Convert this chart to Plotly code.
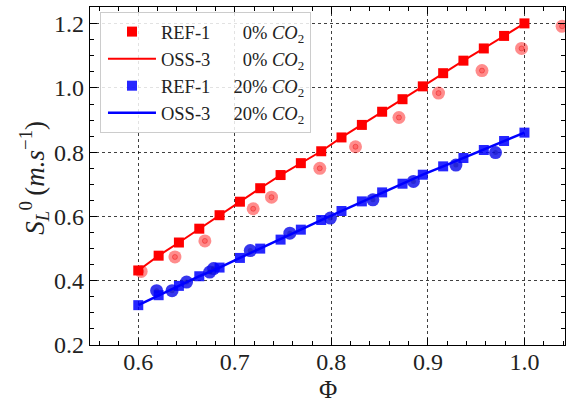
import numpy as np
import plotly.graph_objects as go

# ---- data ----
phi_grid = [0.6, 0.6211, 0.6421, 0.6632, 0.6842, 0.7053, 0.7263, 0.7474, 0.7684, 0.7895,
            0.8105, 0.8316, 0.8526, 0.8737, 0.8947, 0.9158, 0.9368, 0.9579, 0.9789, 1.0]
ref1_0_y = [0.432, 0.478, 0.519, 0.562, 0.604, 0.646, 0.688, 0.729, 0.766, 0.803,
            0.846, 0.885, 0.926, 0.965, 1.005, 1.046, 1.085, 1.123, 1.162, 1.201]
oss3_0_y = [0.432, 0.478, 0.519, 0.562, 0.604, 0.646, 0.688, 0.729, 0.766, 0.803,
            0.846, 0.885, 0.926, 0.965, 1.005, 1.046, 1.085, 1.123, 1.162, 1.201]
ref1_20_y = [0.324, 0.355, 0.384, 0.414, 0.441, 0.471, 0.500, 0.528, 0.559, 0.589,
             0.617, 0.647, 0.675, 0.702, 0.730, 0.756, 0.782, 0.807, 0.835, 0.861]
oss3_20_y = [0.324, 0.355, 0.384, 0.414, 0.441, 0.471, 0.500, 0.528, 0.559, 0.589,
             0.617, 0.647, 0.675, 0.702, 0.730, 0.756, 0.782, 0.807, 0.835, 0.861]

exp_0_x = [0.603, 0.638, 0.669, 0.719, 0.738, 0.788, 0.825, 0.870, 0.911, 0.956, 0.997, 1.039]
exp_0_y = [0.429, 0.474, 0.524, 0.624, 0.660, 0.750, 0.817, 0.908, 0.984, 1.054, 1.123, 1.192]
exp_20_x = [0.619, 0.635, 0.650, 0.674, 0.678, 0.716, 0.757, 0.799, 0.843, 0.885, 0.929, 0.970]
exp_20_y = [0.369, 0.369, 0.396, 0.427, 0.438, 0.494, 0.548, 0.595, 0.652, 0.709, 0.760, 0.799]

x_ticks = [0.6, 0.7, 0.8, 0.9, 1.0]
y_ticks = [0.2, 0.4, 0.6, 0.8, 1.0, 1.2]

FONT = "Liberation Serif"
RED = "#ff0000"
BLUE = "#0000ff"

fig = go.Figure()

# background experimental circles (not in legend)
fig.add_trace(go.Scatter(x=exp_0_x, y=exp_0_y, mode="markers", showlegend=False,
                         marker=dict(symbol="circle", size=13, color="rgba(255,0,0,0.45)",
                                     line=dict(width=0))))
fig.add_trace(go.Scatter(x=exp_0_x, y=exp_0_y, mode="markers", showlegend=False,
                         marker=dict(symbol="circle", size=5, color="rgba(255,0,0,0.25)",
                                     line=dict(width=1, color="rgba(220,0,0,0.35)"))))

# red model + reference
fig.add_trace(go.Scatter(x=phi_grid, y=ref1_0_y, mode="markers", name="REF-1\u2003\u2007 0% <i>CO</i><sub>2</sub>",
                         marker=dict(symbol="square", size=10, color=RED)))
fig.add_trace(go.Scatter(x=phi_grid, y=oss3_0_y, mode="lines", name="OSS-3\u2003\u2007 0% <i>CO</i><sub>2</sub>",
                         line=dict(color=RED, width=2)))

# blue circles
fig.add_trace(go.Scatter(x=exp_20_x, y=exp_20_y, mode="markers", showlegend=False,
                         marker=dict(symbol="circle", size=13, color="rgba(20,20,235,0.85)",
                                     line=dict(width=0))))
fig.add_trace(go.Scatter(x=exp_20_x, y=exp_20_y, mode="markers", showlegend=False,
                         marker=dict(symbol="circle", size=5, color="rgba(0,0,150,0.3)",
                                     line=dict(width=0))))

fig.add_trace(go.Scatter(x=phi_grid, y=ref1_20_y, mode="markers", name="REF-1\u2003 20% <i>CO</i><sub>2</sub>",
                         marker=dict(symbol="square", size=10, color="rgba(0,0,255,0.85)")))
fig.add_trace(go.Scatter(x=phi_grid, y=oss3_20_y, mode="lines", name="OSS-3\u2003 20% <i>CO</i><sub>2</sub>",
                         line=dict(color=BLUE, width=2.5)))

axis_common = dict(
    showline=True, linecolor="black", linewidth=1.2, mirror="allticks",
    ticks="inside", ticklen=7, tickwidth=1, tickcolor="black",
    showgrid=True, gridcolor="rgba(0,0,0,0.75)", griddash="dot", gridwidth=1,
    zeroline=False, automargin=False,
    tickfont=dict(family=FONT, size=24, color="#222"),
)

fig.update_xaxes(range=[0.55, 1.042], tickvals=x_ticks, tickformat=".1f", ticklabelstandoff=-5,
                 minor=dict(ticks="inside", ticklen=4, dtick=0.02, tick0=0.6, tickcolor="black", showgrid=False),
                 **axis_common)
fig.update_yaxes(range=[0.2, 1.252], tickvals=y_ticks, tickformat=".1f",
                 minor=dict(ticks="inside", ticklen=4, dtick=0.05, tick0=0.2, tickcolor="black", showgrid=False),
                 **axis_common)

fig.add_annotation(text="Φ", xref="paper", yref="paper", x=0.5, y=-0.132,
                   xanchor="center", yanchor="middle", showarrow=False,
                   font=dict(family=FONT, size=25, color="#222"))
fig.add_annotation(text="<i>S</i><sub><i>L</i></sub><sup>0</sup>\u2009(<i>m.s</i><sup>−1</sup>)",
                   xref="paper", yref="paper", x=-0.118, y=0.495, textangle=-90,
                   xanchor="center", yanchor="middle", showarrow=False,
                   font=dict(family=FONT, size=27, color="#222"))

fig.update_layout(
    width=571, height=405,
    margin=dict(l=90, r=6, t=7, b=60),
    plot_bgcolor="white", paper_bgcolor="white",
    font=dict(family=FONT, color="#222"),
    legend=dict(x=0.021, y=0.985, xanchor="left", yanchor="top",
                bgcolor="rgba(255,255,255,0.85)", bordercolor="#cccccc", borderwidth=1,
                font=dict(family=FONT, size=18.5, color="#222"),
                itemwidth=48, indentation=2, tracegroupgap=0),
)

fig.write_html("out.html", config={"displayModeBar": False},
               post_script="document.body.style.margin='0';document.body.style.padding='0';")
